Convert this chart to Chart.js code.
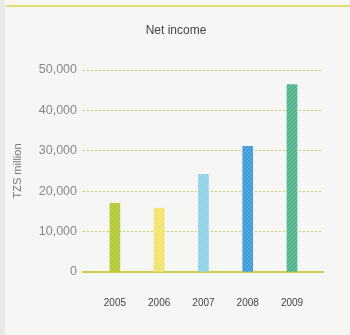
<!DOCTYPE html>
<html>
<head>
<meta charset="utf-8">
<script src="https://cdn.jsdelivr.net/npm/chart.js@4/dist/chart.umd.min.js"></script>
<style>
  html, body { margin: 0; padding: 0; background: #f5f5f3; }
  #wrap { width: 350px; height: 335px; position: relative; }
</style>
</head>
<body>
<div id="wrap"><canvas id="incomeChart" width="350" height="335"></canvas></div>
<script>
const chartTitle = 'Net income';
const years = [2005, 2006, 2007, 2008, 2009];
const netIncome = [17000, 15800, 24200, 31100, 46400];
const yTicks = [0, 10000, 20000, 30000, 40000, 50000];
const barColors = ['#b3c832', '#f0e36c', '#8fd2e6', '#3c9bd8', '#4fb48c'];

// light diagonal hatching, like the printed bars
function hatch(color) {
  const c = document.createElement('canvas');
  c.width = 4; c.height = 4;
  const g = c.getContext('2d');
  g.fillStyle = color;
  g.fillRect(0, 0, 4, 4);
  g.strokeStyle = 'rgba(255,255,255,0.25)';
  g.lineWidth = 1;
  g.beginPath();
  g.moveTo(0, 4); g.lineTo(4, 0);
  g.stroke();
  return g.createPattern(c, 'repeat');
}

// page tint, left margin strip, yellow rule on top and the heading
const pageBackground = {
  id: 'pageBackground',
  beforeDraw(chart) {
    const g = chart.ctx;
    g.save();
    g.fillStyle = '#f6f6f4';
    g.fillRect(0, 0, chart.width, chart.height);
    g.fillStyle = '#e9e9e6';
    g.fillRect(0, 0, 5, chart.height);
    g.fillStyle = '#dcdf6e';
    g.fillRect(6, 5, chart.width - 6, 2);
    g.fillStyle = '#444';
    g.font = '12px "Liberation Sans"';
    g.textAlign = 'center';
    g.textBaseline = 'middle';
    g.fillText(chartTitle, 176, 31);
    g.restore();
  }
};

const ctx = document.getElementById('incomeChart').getContext('2d');
new Chart(ctx, {
  type: 'bar',
  data: {
    datasets: [{
      label: chartTitle,
      data: years.map((y, i) => ({ x: y, y: netIncome[i] })),
      backgroundColor: barColors.map(hatch),
      barThickness: 10
    }]
  },
  plugins: [pageBackground],
  options: {
    responsive: false,
    animation: false,
    layout: { padding: { left: 5, right: 27, top: 70, bottom: 0 } },
    scales: {
      x: {
        type: 'linear',
        offset: false,
        min: 2004.28,
        max: 2009.7,
        afterBuildTicks: s => { s.ticks = years.map(v => ({ value: v })); },
        afterFit: s => { s.height = 63; },
        grid: { display: false },
        border: { display: true, color: '#c9d04c', width: 2 },
        ticks: {
          padding: 17,
          color: '#444',
          font: { family: 'Liberation Sans', size: 10 },
          callback: v => String(v)
        }
      },
      y: {
        min: 0,
        max: 50000,
        afterBuildTicks: s => { s.ticks = yTicks.map(v => ({ value: v })); },
        afterFit: s => { s.width = 78; },
        border: { display: false, dash: [2, 2] },
        grid: { color: '#c8cf5c', lineWidth: 1, drawTicks: false },
        ticks: {
          padding: 6,
          color: '#888',
          font: { family: 'Liberation Sans', size: 12.5 },
          callback: v => v.toLocaleString('en-US')
        },
        title: {
          display: true,
          text: 'TZS million',
          color: '#777',
          font: { family: 'Liberation Sans', size: 11 },
          padding: { top: 6, bottom: 0 }
        }
      }
    },
    plugins: {
      legend: { display: false },
      tooltip: { enabled: false },
      title: { display: false }
    }
  }
});
</script>
</body>
</html>
